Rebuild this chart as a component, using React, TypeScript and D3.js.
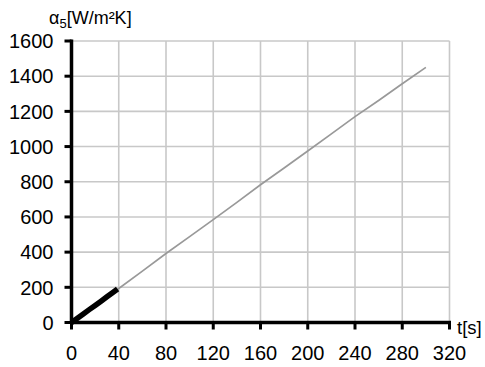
import React from "react";
import * as d3 from "d3";

const xTicks = [0, 40, 80, 120, 160, 200, 240, 280, 320];
const yTicks = [0, 200, 400, 600, 800, 1000, 1200, 1400, 1600];

// long run (grey)
const grayT = [0, 20, 40, 60, 80, 100, 120, 140, 160, 180, 200, 220, 240, 260, 280, 300];
const grayV = [0, 97, 193, 292, 392, 488, 585, 683, 783, 878, 975, 1072, 1170, 1262, 1357, 1450];

// short run (black, thick)
const blackT = [0, 5, 10, 15, 20, 25, 30, 35, 39];
const blackV = [0, 24, 48, 73, 97, 121, 146, 170, 190];

export default function App() {
  const W = 485, H = 367;
  const x = d3.scaleLinear().domain([0, 320]).range([71.5, 449.5]);
  const y = d3.scaleLinear().domain([0, 1600]).range([322.5, 41]);
  const line = d3.line<[number, number]>().x(d => x(d[0])).y(d => y(d[1]));
  const gray = line(grayT.map((t, i) => [t, grayV[i]]) as [number, number][]) || "";
  const black = line(blackT.map((t, i) => [t, blackV[i]]) as [number, number][]) || "";
  const font = "Liberation Sans, Arial, sans-serif";
  return (
    <svg width={W} height={H} style={{ position: "absolute", left: 0, top: 0, background: "#fff" }} fontFamily={font}>
      {/* grid */}
      {xTicks.filter(t => t > 0).map(t => (
        <line key={"gx" + t} x1={x(t)} x2={x(t)} y1={y(1600)} y2={y(0)} stroke="#c8c8c8" strokeWidth={1.6} />
      ))}
      {yTicks.filter(t => t > 0).map(t => (
        <line key={"gy" + t} x1={x(0)} x2={x(320)} y1={y(t)} y2={y(t)} stroke="#c8c8c8" strokeWidth={1.6} />
      ))}
      {/* series */}
      <path d={gray} fill="none" stroke="#999" strokeWidth={1.7} />
      <path d={black} fill="none" stroke="#000" strokeWidth={5.5} />
      {/* axes */}
      <line x1={x(0)} x2={x(0)} y1={y(1600) - 1.5} y2={y(0) + 1.5} stroke="#000" strokeWidth={3.5} />
      <line x1={x(0) - 1.5} x2={x(320) + 1.5} y1={y(0)} y2={y(0)} stroke="#000" strokeWidth={3.5} />
      {yTicks.map(t => (
        <g key={"ty" + t}>
          <line x1={x(0) - 7} x2={x(0)} y1={y(t)} y2={y(t)} stroke="#000" strokeWidth={3} />
          <text x={53.5} y={y(t)} dy="0.36em" textAnchor="end" fontSize={20}>{t}</text>
        </g>
      ))}
      {xTicks.map(t => (
        <g key={"tx" + t}>
          <line x1={x(t)} x2={x(t)} y1={y(0)} y2={y(0) + 7} stroke="#000" strokeWidth={3} />
          <text x={x(t)} y={353} dy="0.36em" textAnchor="middle" fontSize={20}>{t}</text>
        </g>
      ))}
      {/* axis titles */}
      <text x={49} y={24} fontSize={18}>
        <tspan>α</tspan>
        <tspan fontSize={13} dy={4}>5</tspan>
        <tspan dy={-4}>[W/m²K]</tspan>
      </text>
      <text x={457} y={334} fontSize={18.5}>t[s]</text>
    </svg>
  );
}
